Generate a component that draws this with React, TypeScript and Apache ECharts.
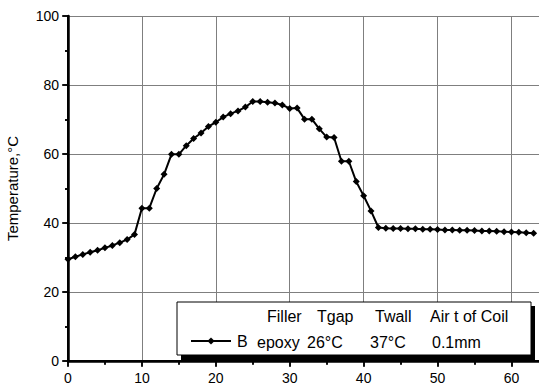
import React, { useEffect, useRef } from "react";
import * as echarts from "echarts";

const timeValues = [
  0, 1, 2, 3, 4, 5, 6, 7, 8, 9, 10, 11, 12, 13, 14, 15, 16, 17, 18, 19, 20,
  21, 22, 23, 24, 25, 26, 27, 28, 29, 30, 31, 32, 33, 34, 35, 36, 37, 38, 39,
  40, 41, 42, 43, 44, 45, 46, 47, 48, 49, 50, 51, 52, 53, 54, 55, 56, 57, 58,
  59, 60, 61, 62, 63,
];
const temperatureB = [
  29.5, 30.2, 30.9, 31.5, 32.1, 32.8, 33.5, 34.3, 35.2, 36.7, 44.3, 44.3, 50.0,
  54.1, 59.9, 59.9, 62.4, 64.5, 66.1, 68.0, 69.2, 70.7, 71.7, 72.5, 73.6, 75.2,
  75.2, 75.0, 74.8, 74.2, 73.2, 73.3, 70.1, 70.1, 67.3, 64.9, 64.8, 57.9, 57.9,
  52.0, 47.9, 43.5, 38.7, 38.5, 38.4, 38.4, 38.3, 38.3, 38.2, 38.2, 38.1, 38.0,
  38.0, 37.9, 37.9, 37.8, 37.7, 37.7, 37.6, 37.5, 37.4, 37.3, 37.2, 37.0,
];
const seriesName = "B";
const yAxisTitle = "Temperature,°C";
const legendHeaders = ["Filler", "Tgap", "Twall", "Air t of Coil"];
const legendValues = ["epoxy", "26°C", "37°C", "0.1mm"];

const FONT = '"Liberation Sans", Arial, sans-serif';

export default function App() {
  const ref = useRef<HTMLDivElement>(null);
  useEffect(() => {
    const chart = echarts.init(ref.current!, null, { renderer: "svg" });
    const headerX = [267, 317, 375, 430];
    const valueX = [257, 307, 370, 432];
    const texts: any[] = [];
    legendHeaders.forEach((t, i) =>
      texts.push({
        type: "text",
        x: headerX[i],
        y: 316,
        z: 20,
        style: { text: t, fill: "#000", font: `16px ${FONT}`, verticalAlign: "middle", textVerticalAlign: "middle" },
      })
    );
    legendValues.forEach((t, i) =>
      texts.push({
        type: "text",
        x: valueX[i],
        y: 342,
        z: 20,
        style: { text: t, fill: "#000", font: `16px ${FONT}`, verticalAlign: "middle", textVerticalAlign: "middle" },
      })
    );
    const axisCommon = {
      type: "value" as const,
    };
    chart.setOption({
      animation: false,
      backgroundColor: "#fff",
      textStyle: { fontFamily: FONT },
      grid: { left: 68, right: -2, top: 16, bottom: 27, containLabel: false, outerBoundsMode: "none" },
      xAxis: [
        {
          ...axisCommon,
          position: "bottom",
          min: 0,
          max: 64,
          interval: 10,
          axisLine: { show: true, lineStyle: { color: "#000", width: 2.5 } },
          axisTick: { show: true, inside: false, length: 5, lineStyle: { color: "#000", width: 1.5 } },
          minorTick: { show: true, splitNumber: 2, length: 3, lineStyle: { color: "#000", width: 1.5 } },
          axisLabel: { show: true, margin: 10, fontSize: 14, color: "#000", fontFamily: FONT, showMaxLabel: false },
          splitLine: { show: true, lineStyle: { color: "#7f7f7f", width: 1 } },
        },
        {
          ...axisCommon,
          position: "top",
          min: 0,
          max: 64,
          interval: 10,
          axisLine: { show: true, lineStyle: { color: "#000", width: 2 } },
          axisTick: { show: true, inside: true, length: 6, lineStyle: { color: "#000", width: 1.5 } },
          minorTick: { show: true, splitNumber: 2, length: 4, lineStyle: { color: "#000", width: 1.5 } },
          axisLabel: { show: false },
          splitLine: { show: false },
        },
      ],
      yAxis: [
        {
          ...axisCommon,
          position: "left",
          min: 0,
          max: 100,
          interval: 20,
          name: yAxisTitle,
          nameLocation: "middle",
          nameGap: 48,
          nameTextStyle: { fontSize: 15, color: "#000", fontFamily: FONT },
          axisLine: { show: true, lineStyle: { color: "#000", width: 2.5 } },
          axisTick: { show: true, inside: false, length: 5, lineStyle: { color: "#000", width: 1.5 } },
          minorTick: { show: true, splitNumber: 2, length: 3, lineStyle: { color: "#000", width: 1.5 } },
          axisLabel: { show: true, margin: 9, fontSize: 14, color: "#000", fontFamily: FONT },
          splitLine: { show: true, lineStyle: { color: "#7f7f7f", width: 1 } },
        },
        {
          ...axisCommon,
          position: "right",
          min: 0,
          max: 100,
          interval: 20,
          axisLine: { show: true, lineStyle: { color: "#000", width: 2 } },
          axisTick: { show: true, inside: true, length: 6, lineStyle: { color: "#000", width: 1.5 } },
          minorTick: { show: true, splitNumber: 2, length: 3, lineStyle: { color: "#000", width: 1.5 } },
          axisLabel: { show: false },
          splitLine: { show: false },
        },
      ],
      legend: {
        show: true,
        data: [seriesName],
        left: 190,
        top: 333,
        padding: 0,
        itemWidth: 40,
        itemHeight: 9,
        itemGap: 0,
        z: 30,
        textStyle: { fontSize: 16, color: "#000", fontFamily: FONT, padding: [0, 0, 0, 1] },
      },
      graphic: [
        { type: "rect", z: 10, shape: { x: 181, y: 306, width: 354, height: 54 }, style: { fill: "#000" } },
        {
          type: "rect",
          z: 11,
          shape: { x: 177, y: 302, width: 354, height: 53 },
          style: { fill: "#fff", stroke: "#000", lineWidth: 1 },
        },
        ...texts,
      ],
      series: [
        {
          name: seriesName,
          type: "line",
          xAxisIndex: 0,
          yAxisIndex: 0,
          data: timeValues.map((t, i) => [t, temperatureB[i]]),
          symbol: "diamond",
          symbolSize: 7,
          showSymbol: true,
          lineStyle: { color: "#000", width: 2 },
          itemStyle: { color: "#000" },
          z: 5,
        },
      ],
    });
    return () => chart.dispose();
  }, []);
  return <div ref={ref} style={{ width: 539, height: 388, position: "fixed", left: 0, top: 0 }} />;
}
